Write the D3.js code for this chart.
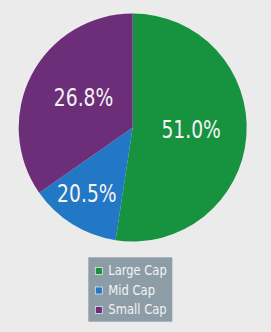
<!DOCTYPE html>
<html>
<head>
<meta charset="utf-8">
<script src="https://cdn.jsdelivr.net/npm/d3@7"></script>
<style>
html,body{margin:0;padding:0;background:#ebebeb;}
svg{display:block;}
</style>
</head>
<body>
<svg id="chart" width="271" height="332"></svg>
<script>
// Data
const categories = ["Large Cap", "Mid Cap", "Small Cap"];
const labels = ["51.0%", "20.5%", "26.8%"];
// slice shares as drawn in the picture (measured from the wedge angles)
const shares = [52.4, 12.9, 34.7];
const colors = ["#17923f", "#2278c4", "#6c2e78"];

const svg = d3.select("#chart");
const cx = 132.7, cy = 127.5, r = 114;

const pie = d3.pie().sort(null).value(d => d.v);
const arcs = pie(categories.map((c, i) => ({c, v: shares[i], label: labels[i], color: colors[i]})));
const arc = d3.arc().innerRadius(0).outerRadius(r);

const g = svg.append("g").attr("transform", `translate(${cx},${cy})`);
g.selectAll("path").data(arcs).join("path")
  .attr("d", arc)
  .attr("fill", d => d.data.color);

// label placement: radius fraction and angular nudge (degrees) per slice
const labelPlace = [
  {rad: 0.513, nudge: -2.3},
  {rad: 0.70, nudge: 3.2},
  {rad: 0.505, nudge: 3.9}
];
g.selectAll("text.lbl").data(arcs).join("text")
  .attr("class", "lbl")
  .attr("transform", (d, i) => {
    const a = (d.startAngle + d.endAngle) / 2 + labelPlace[i].nudge * Math.PI / 180;
    const rr = r * labelPlace[i].rad;
    return `translate(${Math.sin(a) * rr},${-Math.cos(a) * rr})`;
  })
  .attr("text-anchor", "middle")
  .attr("dy", "0.36em")
  .attr("font-family", "DejaVu Sans Condensed, DejaVu Sans, sans-serif")
  .attr("font-size", 24.5)
  .attr("fill", "#f4f4f4")
  .attr("textLength", 59.5)
  .attr("lengthAdjust", "spacingAndGlyphs")
  .text(d => d.data.label);

// Legend
const lg = svg.append("g").attr("transform", "translate(88.3,257.3)");
lg.append("rect").attr("width", 84).attr("height", 64.4).attr("fill", "#8d9da8");
const rowY = d3.scalePoint().domain(categories).range([17.7, 56.7]);
const rows = lg.selectAll("g.row").data(categories).join("g")
  .attr("class", "row")
  .attr("transform", d => `translate(0,${rowY(d)})`);
rows.append("rect")
  .attr("x", 7).attr("y", -7.5).attr("width", 7).attr("height", 7)
  .attr("fill", (d, i) => colors[i])
  .attr("stroke", "#e6e6e6").attr("stroke-width", 0.8);
const legendWidths = [58.4, 46.7, 58.4];
rows.append("text")
  .attr("x", 20)
  .attr("y", 0)
  .attr("font-family", "DejaVu Sans Condensed, DejaVu Sans, sans-serif")
  .attr("font-size", 14)
  .attr("fill", "#f2f2f2")
  .attr("textLength", (d, i) => legendWidths[i])
  .attr("lengthAdjust", "spacingAndGlyphs")
  .text(d => d);
</script>
</body>
</html>
